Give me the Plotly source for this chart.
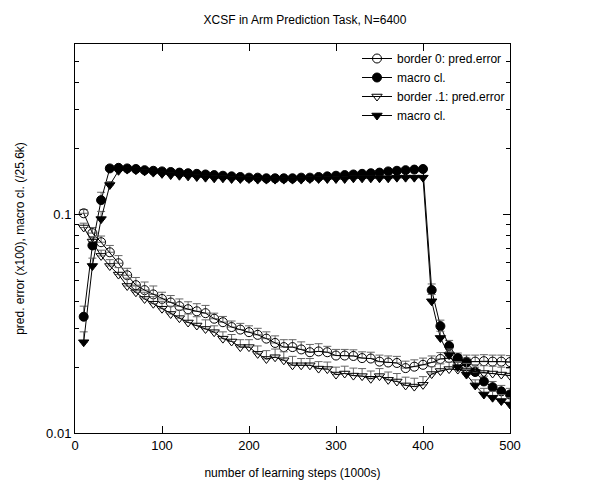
import plotly.graph_objects as go

# learning steps (1000s)
steps = list(range(10, 510, 10))

# border 0
err0 = [0.101, 0.082, 0.0745, 0.067, 0.0597, 0.0526, 0.0474, 0.045, 0.043, 0.041,
        0.0395, 0.038, 0.0368, 0.036, 0.0353, 0.0333, 0.0321, 0.0305, 0.0297, 0.0289,
        0.0281, 0.0270, 0.0258, 0.0247, 0.0247, 0.0241, 0.0234, 0.0236, 0.0234, 0.0226,
        0.0226, 0.0225, 0.0220, 0.0219, 0.0212, 0.0210, 0.0209, 0.0198, 0.0201, 0.0205,
        0.0210, 0.0218, 0.0220, 0.0213, 0.0212, 0.0212, 0.0213, 0.0212, 0.0212, 0.0211]
err0_sd = [0.004, 0.005, 0.005, 0.005, 0.005, 0.004, 0.004, 0.004, 0.004, 0.003,
           0.003, 0.003, 0.003, 0.003, 0.003, 0.002, 0.002, 0.002, 0.002, 0.002,
           0.002, 0.002, 0.002, 0.002, 0.002, 0.002, 0.002, 0.002, 0.0015, 0.0015,
           0.0015, 0.0015, 0.0015, 0.0015, 0.0015, 0.0015, 0.0015, 0.0015, 0.0015, 0.0015,
           0.0015, 0.0015, 0.0015, 0.0015, 0.0015, 0.0015, 0.0015, 0.0015, 0.0015, 0.0015]
mc0 = [0.034, 0.072, 0.116, 0.162, 0.163, 0.162, 0.161, 0.159, 0.158, 0.157,
       0.156, 0.155, 0.154, 0.153, 0.152, 0.151, 0.150, 0.149, 0.148, 0.147,
       0.147, 0.146, 0.146, 0.146, 0.146, 0.147, 0.147, 0.148, 0.149, 0.150,
       0.151, 0.152, 0.153, 0.154, 0.155, 0.157, 0.158, 0.159, 0.160, 0.161,
       0.045, 0.0308, 0.025, 0.022, 0.021, 0.019, 0.0172, 0.0162, 0.0155, 0.015]
mc0_sd = [0.004, 0.006, 0.01, 0.004, 0.003, 0.003, 0.003, 0.003, 0.003, 0.003,
          0.003, 0.003, 0.003, 0.003, 0.003, 0.003, 0.003, 0.003, 0.003, 0.003,
          0.003, 0.003, 0.003, 0.003, 0.003, 0.003, 0.003, 0.003, 0.003, 0.003,
          0.003, 0.003, 0.003, 0.003, 0.003, 0.003, 0.003, 0.003, 0.003, 0.003,
          0.003, 0.002, 0.0015, 0.0012, 0.001, 0.001, 0.001, 0.001, 0.001, 0.001]

# border .1
err1 = [0.087, 0.075, 0.0645, 0.058, 0.053, 0.047, 0.044, 0.041, 0.039, 0.037,
        0.035, 0.0335, 0.032, 0.031, 0.0299, 0.0289, 0.0270, 0.0262, 0.0247, 0.0247,
        0.0230, 0.0218, 0.0222, 0.0215, 0.0204, 0.0204, 0.0204, 0.0197, 0.0196, 0.0185,
        0.0187, 0.0183, 0.0182, 0.0177, 0.0182, 0.0175, 0.0172, 0.0165, 0.0163, 0.0166,
        0.0186, 0.0192, 0.0196, 0.0195, 0.0193, 0.0190, 0.0188, 0.0187, 0.0185, 0.0183]
err1_sd = [0.004, 0.004, 0.004, 0.004, 0.004, 0.004, 0.003, 0.003, 0.003, 0.003,
           0.003, 0.003, 0.003, 0.003, 0.003, 0.002, 0.002, 0.002, 0.002, 0.002,
           0.002, 0.002, 0.002, 0.002, 0.002, 0.0015, 0.0015, 0.0015, 0.0015, 0.0015,
           0.0015, 0.0015, 0.0015, 0.0015, 0.0015, 0.0015, 0.0015, 0.0015, 0.0015, 0.0015,
           0.0015, 0.0015, 0.0015, 0.0015, 0.0015, 0.0015, 0.0015, 0.0015, 0.0015, 0.0015]
mc1 = [0.026, 0.058, 0.095, 0.136, 0.158, 0.160, 0.159, 0.157, 0.155, 0.153,
       0.151, 0.150, 0.149, 0.148, 0.147, 0.146, 0.146, 0.145, 0.145, 0.145,
       0.144, 0.144, 0.144, 0.144, 0.144, 0.144, 0.145, 0.145, 0.145, 0.145,
       0.145, 0.146, 0.146, 0.146, 0.146, 0.146, 0.147, 0.147, 0.147, 0.147,
       0.040, 0.0272, 0.0227, 0.020, 0.0185, 0.0165, 0.0150, 0.0145, 0.0140, 0.0135]
mc1_sd = [0.003, 0.005, 0.008, 0.005, 0.003, 0.003, 0.003, 0.003, 0.003, 0.003,
          0.003, 0.003, 0.003, 0.003, 0.003, 0.003, 0.003, 0.003, 0.003, 0.003,
          0.003, 0.003, 0.003, 0.003, 0.003, 0.003, 0.003, 0.003, 0.003, 0.003,
          0.003, 0.003, 0.003, 0.003, 0.003, 0.003, 0.003, 0.003, 0.003, 0.003,
          0.003, 0.002, 0.0015, 0.0012, 0.001, 0.001, 0.001, 0.001, 0.001, 0.001]

minor_y = [0.02, 0.03, 0.04, 0.05, 0.06, 0.07, 0.08, 0.09, 0.2, 0.3, 0.4, 0.5, 0.6]

series = [
    ('border 0: pred.error', err0, err0_sd, 'circle-open'),
    ('macro cl.', mc0, mc0_sd, 'circle'),
    ('border .1: pred.error', err1, err1_sd, 'triangle-down-open'),
    ('macro cl.', mc1, mc1_sd, 'triangle-down'),
]

fig = go.Figure()

for name, vals, sd, sym in series:
    fig.add_trace(go.Scatter(
        x=steps,
        y=vals,
        mode='lines+markers',
        name=name,
        line=dict(color='black', width=1),
        marker=dict(symbol=sym, size=9, color='black', line=dict(color='black', width=1)),
        error_y=dict(type='data', array=sd, arrayminus=[0] * len(sd),
                     color='#666666', thickness=1, width=4)
    ))

fig.update_layout(
    width=594, height=484,
    paper_bgcolor='white', plot_bgcolor='white',
    margin=dict(l=67, r=92, t=36, b=59),
    font=dict(family='Liberation Sans, Arial, sans-serif', size=12, color='black'),
    title=dict(text='XCSF in Arm Prediction Task, N=6400', x=0.5, xanchor='center',
               y=0.975, yanchor='middle', font=dict(size=12)),
    showlegend=True,
    legend=dict(x=1.0, y=1.0, xanchor='right', yanchor='top', bgcolor='rgba(0,0,0,0)',
                font=dict(size=12), tracegroupgap=0, itemwidth=30),
    xaxis=dict(range=[0, 500], tickvals=[0, 100, 200, 300, 400, 500],
               ticks='inside', ticklen=7, tickcolor='black', showgrid=False, zeroline=False,
               showline=True, linecolor='black', linewidth=1, mirror='ticks',
               tickfont=dict(size=13),
               title=dict(text='number of learning steps (1000s)', font=dict(size=12), standoff=17)),
    yaxis=dict(type='log', range=[-2, -0.2218], tickvals=[0.01, 0.1], ticktext=['0.01', '0.1'],
               ticks='inside', ticklen=7, tickcolor='black', showgrid=False, zeroline=False,
               showline=True, linecolor='black', linewidth=1, mirror='ticks',
               tickfont=dict(size=13),
               minor=dict(tickvals=minor_y, ticks='inside', ticklen=4, tickcolor='black', showgrid=False),
               title=dict(text='pred. error (x100), macro cl. (/25.6k)', font=dict(size=12), standoff=18)),
)

fig.write_html("out.html")
